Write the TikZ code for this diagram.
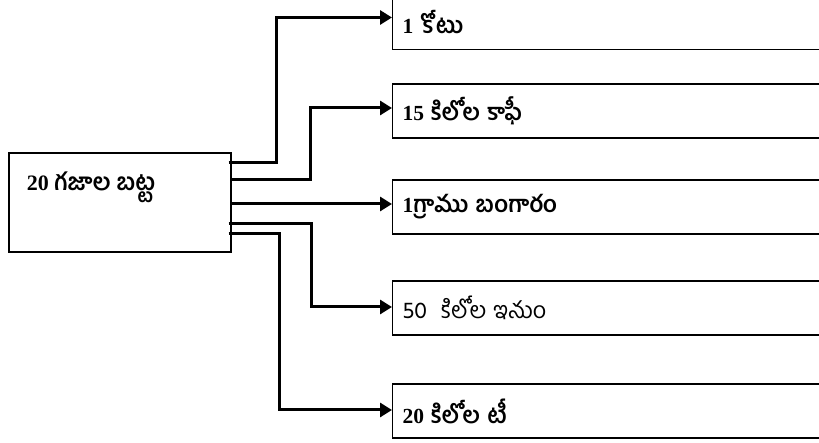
\documentclass[tikz,border=0pt]{standalone}
\usepackage{fontspec}
\setmainfont{Liberation Serif}
\newfontfamily\telugu[Script=Telugu,Scale=1.08]{Hind Guntur}
\usetikzlibrary{arrows.meta,positioning}

\begin{document}
\begin{tikzpicture}[x=1pt,y=1pt,
    box/.style={draw,line width=1.2pt,minimum height=54pt,text width=420pt,inner xsep=10pt,align=left,anchor=west,font=\fontsize{21.5}{24}\selectfont},
    link/.style={line width=3pt,-{Triangle[length=12pt,width=14pt]}}]
\useasboundingbox (0,0) rectangle (819,443);
\clip (0,0) rectangle (819,443);
            \node[draw,line width=1.2pt,minimum width=222pt,minimum height=99pt] (cloth) at (120,240.5) {};
            \node[anchor=base west,font=\fontsize{22}{24}\selectfont\bfseries] (clothtext) at ([xshift=15pt,yshift=-38pt]cloth.north west) {20 {\telugu గజాల బట్ట}};
            \node[box] (coat) at (392,420.5) {\bfseries 1 {\telugu కోటు}};
            \node[box] (coffee) at (392,332) {\bfseries 15 {\telugu కిలోల కాఫీ}};
            \node[box] (gold) at (392,236) {\bfseries 1{\telugu గ్రాము బంగారం}};
            \node[box] (iron) at (392,135) {\telugu 50\ \ కిలోల ఇనుం};
            \node[box] (tea) at (392,32) {\bfseries 20 {\telugu కిలోల టీ}};
            \draw[link] ([xshift=-3pt,yshift=39.5pt]cloth.east) -- ++(48,0) |- ([yshift=5pt]coat.west);
            \draw[link] ([yshift=22.5pt]cloth.east) -- ++(79,0) |- ([yshift=3pt]coffee.west);
            \draw[link] ([yshift=-1.5pt]cloth.east) -- ([yshift=3pt]gold.west);
            \draw[link] ([xshift=-3pt,yshift=-21.5pt]cloth.east) -- ++(83,0) |- ([yshift=1pt]iron.west);
            \draw[link] ([xshift=-3pt,yshift=-31.5pt]cloth.east) -- ++(51,0) |- ([yshift=1pt]tea.west);
        \end{tikzpicture}
\end{document}
